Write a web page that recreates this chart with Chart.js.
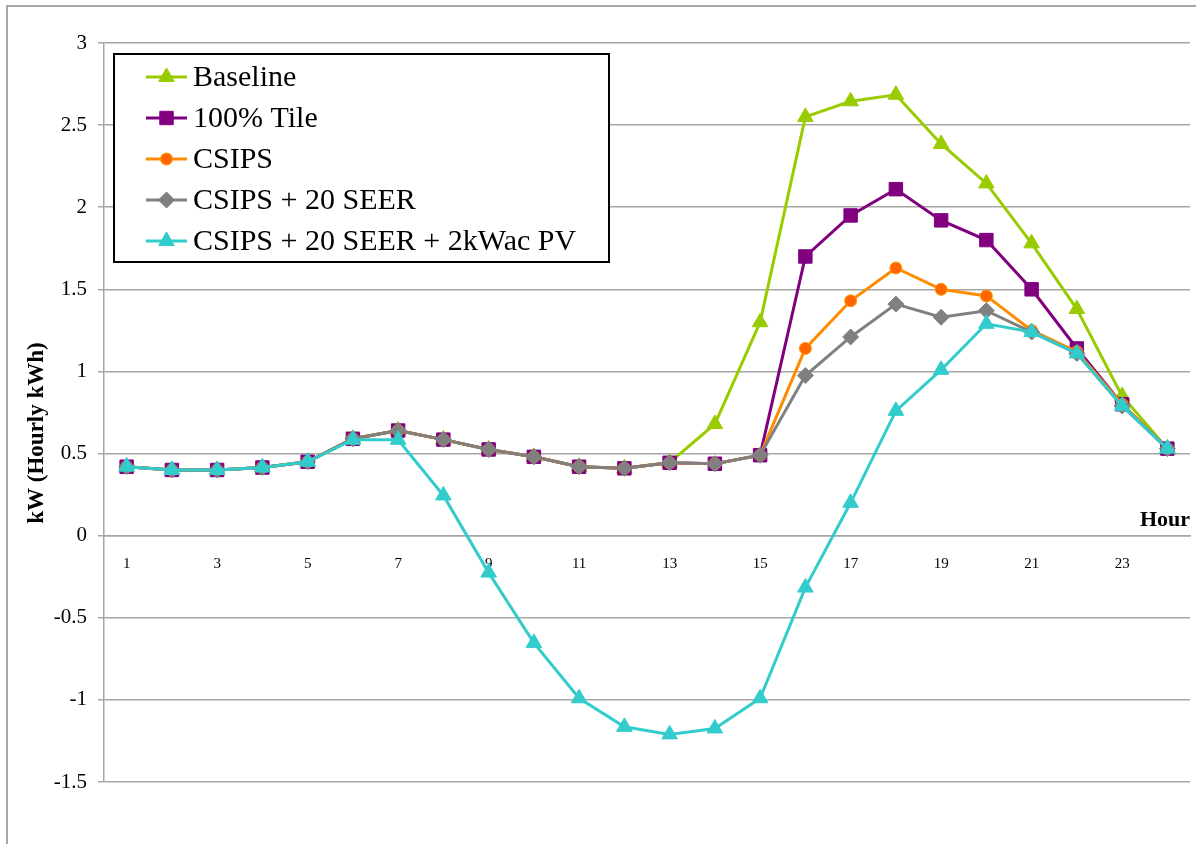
<!DOCTYPE html>
<html>
<head>
<meta charset="utf-8">
<script src="https://cdn.jsdelivr.net/npm/chart.js@4"></script>
<style>
  body { margin: 0; background: #fff; }
</style>
</head>
<body>
<canvas id="graph" width="1196" height="844"></canvas>
<script>
// Hours along the x-axis
const hours = ['1','2','3','4','5','6','7','8','9','10','11','12','13','14','15','16','17','18','19','20','21','22','23','24']
// One array per line (kW)
const baseline = [0.42, 0.40, 0.40, 0.415, 0.45, 0.59, 0.64, 0.585, 0.525, 0.48, 0.42, 0.41, 0.445, 0.68, 1.30, 2.55, 2.645, 2.685, 2.385, 2.145, 1.78, 1.38, 0.85, 0.53]
const tile = [0.42, 0.40, 0.40, 0.415, 0.45, 0.59, 0.64, 0.585, 0.525, 0.48, 0.42, 0.41, 0.444, 0.438, 0.49, 1.70, 1.95, 2.11, 1.92, 1.80, 1.50, 1.14, 0.80, 0.53]
const csips = [0.42, 0.40, 0.40, 0.415, 0.45, 0.59, 0.64, 0.585, 0.525, 0.48, 0.42, 0.41, 0.444, 0.438, 0.49, 1.14, 1.43, 1.63, 1.50, 1.46, 1.25, 1.12, 0.80, 0.53]
const seer = [0.42, 0.40, 0.40, 0.415, 0.45, 0.59, 0.64, 0.585, 0.525, 0.48, 0.42, 0.41, 0.444, 0.438, 0.49, 0.975, 1.21, 1.41, 1.33, 1.37, 1.24, 1.11, 0.79, 0.53]
const pv = [0.42, 0.40, 0.40, 0.415, 0.45, 0.584, 0.584, 0.245, -0.225, -0.653, -0.99, -1.164, -1.21, -1.174, -0.99, -0.316, 0.20, 0.76, 1.01, 1.29, 1.24, 1.11, 0.79, 0.53]
// y-axis ticks
const yMin = -1.5
const yMax = 3
const yStep = 0.5

const serif = "'Liberation Serif', 'Times New Roman', serif"
const gridGray = '#a6a6a6'

// legend box, outer border and the two axis titles
const extras = {
  id: 'extras',
  beforeDraw(chart) {
    const ctx = chart.ctx
    ctx.save()
    ctx.strokeStyle = gridGray
    ctx.lineWidth = 2
    ctx.beginPath()
    ctx.moveTo(7, 844)
    ctx.lineTo(7, 6)
    ctx.lineTo(1196, 6)
    ctx.stroke()
    ctx.restore()
  },
  afterDraw(chart) {
    const ctx = chart.ctx
    ctx.save()
    // y title
    ctx.fillStyle = '#000'
    ctx.font = 'bold 23px ' + serif
    ctx.textAlign = 'center'
    ctx.textBaseline = 'middle'
    ctx.translate(37, 433)
    ctx.rotate(-Math.PI / 2)
    ctx.fillText('kW (Hourly kWh)', 0, 0)
    ctx.restore()

    ctx.save()
    ctx.fillStyle = '#000'
    ctx.font = 'bold 22px ' + serif
    ctx.textAlign = 'right'
    ctx.textBaseline = 'alphabetic'
    ctx.fillText('Hour', 1190, 526)

    // legend
    ctx.fillStyle = '#fff'
    ctx.fillRect(114, 54, 495, 208)
    ctx.strokeStyle = '#000'
    ctx.lineWidth = 2
    ctx.strokeRect(114, 54, 495, 208)
    ctx.font = '30px ' + serif
    ctx.textAlign = 'left'
    ctx.textBaseline = 'middle'
    chart.data.datasets.forEach((ds, i) => {
      const y = 77 + i * 41
      ctx.strokeStyle = ds.borderColor
      ctx.lineWidth = 3
      ctx.beginPath()
      ctx.moveTo(146, y)
      ctx.lineTo(187, y)
      ctx.stroke()
      ctx.fillStyle = ds.pointBackgroundColor
      ctx.strokeStyle = ds.pointBorderColor
      ctx.lineWidth = 1
      Chart.helpers.drawPoint(ctx, { pointStyle: ds.pointStyle, radius: ds.pointRadius, rotation: 0, borderWidth: 1 }, 166.5, y)
      ctx.fillStyle = '#000'
      ctx.fillText(ds.label, 193, y + 1)
    })
    ctx.restore()
  }
}

function line(label, values, color, fill, style, radius, order) {
  return {
    label: label,
    data: values,
    borderColor: color,
    backgroundColor: color,
    borderWidth: 3,
    pointStyle: style,
    pointRadius: radius,
    pointBackgroundColor: fill,
    pointBorderColor: fill === '#ff6600' ? '#ff9900' : fill,
    pointBorderWidth: 1,
    tension: 0,
    order: order
  }
}

new Chart(document.querySelector('#graph'), {
  type: 'line',
  data: {
    labels: hours,
    datasets: [
      line('Baseline', baseline, '#99cc00', '#99cc00', 'triangle', 9, 5),
      line('100% Tile', tile, '#800080', '#800080', 'rect', 9.5, 4),
      line('CSIPS', csips, '#ff8c00', '#ff6600', 'circle', 6, 3),
      line('CSIPS + 20 SEER', seer, '#808080', '#808080', 'rectRot', 8, 2),
      line('CSIPS + 20 SEER + 2kWac PV', pv, '#33cccc', '#33cccc', 'triangle', 9, 1)
    ]
  },
  options: {
    responsive: false,
    animation: false,
    layout: { autoPadding: false, padding: { left: 0, right: 6, top: 43, bottom: 62 } },
    plugins: {
      legend: { display: false },
      tooltip: { enabled: false }
    },
    scales: {
      x: {
        offset: true,
        position: { y: 0 },
        grid: { display: false, drawTicks: false, offset: true },
        border: { display: true, color: gridGray, width: 1.5 },
        afterFit: scale => { scale.paddingLeft = 0; scale.paddingRight = 0 },
        ticks: {
          autoSkip: false,
          maxRotation: 0,
          padding: 19,
          color: '#000',
          font: { family: serif, size: 15 },
          callback: (v, i) => i % 2 === 0 ? hours[i] : ''
        }
      },
      y: {
        min: yMin,
        max: yMax,
        afterFit: scale => { scale.width = 104 },
        grid: { color: gridGray, lineWidth: 1.5, tickLength: 6 },
        border: { color: gridGray, width: 1.5 },
        ticks: {
          stepSize: yStep,
          padding: 11,
          color: '#000',
          font: { family: serif, size: 21 },
          callback: v => String(Math.round(v * 10) / 10)
        }
      }
    }
  },
  plugins: [extras]
})
</script>
</body>
</html>
